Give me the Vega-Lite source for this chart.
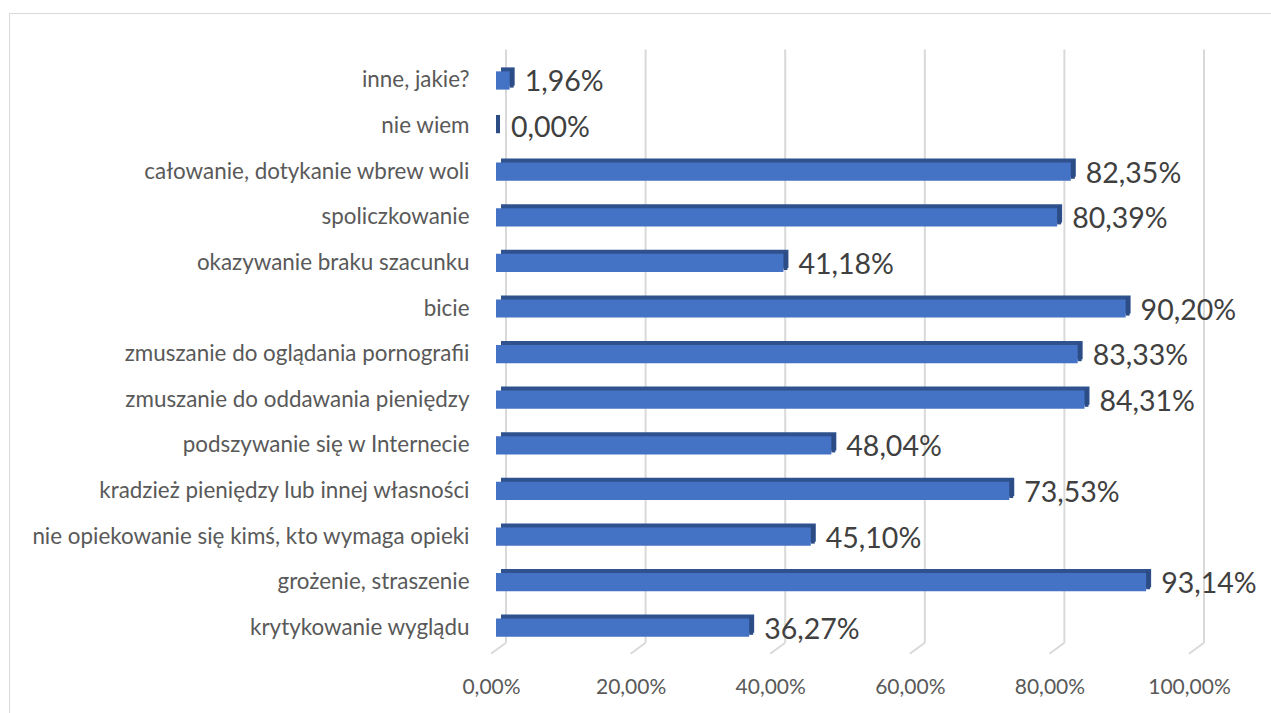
{
  "$schema": "https://vega.github.io/schema/vega-lite/v6.json",
  "width": 1262,
  "height": 700,
  "padding": {"left": 9, "top": 13, "right": 0, "bottom": 0},
  "autosize": {"type": "none"},
  "background": "white",
  "config": {
    "locale": {"number": {"decimal": ",", "thousands": " ", "grouping": [3], "currency": ["", " zł"]}},
    "view": {"stroke": "#d9d9d9", "strokeWidth": 1, "strokeDash": [1262, 1962, 700]},
    "font": "Lato",
    "text": {"font": "Lato"}
  },
  "data": {
    "values": [
      {"cat": "inne, jakie?", "v": 0.0196},
      {"cat": "nie wiem", "v": 0.0},
      {"cat": "całowanie, dotykanie wbrew woli", "v": 0.8235},
      {"cat": "spoliczkowanie", "v": 0.8039},
      {"cat": "okazywanie braku szacunku", "v": 0.4118},
      {"cat": "bicie", "v": 0.902},
      {"cat": "zmuszanie do oglądania pornografii", "v": 0.8333},
      {"cat": "zmuszanie do oddawania pieniędzy", "v": 0.8431},
      {"cat": "podszywanie się w Internecie", "v": 0.4804},
      {"cat": "kradzież pieniędzy lub innej własności", "v": 0.7353},
      {"cat": "nie opiekowanie się kimś, kto wymaga opieki", "v": 0.451},
      {"cat": "grożenie, straszenie", "v": 0.9314},
      {"cat": "krytykowanie wyglądu", "v": 0.3627}
    ]
  },
  "layer": [
    {
      "data": {"values": [{"g": 0}, {"g": 0.2}, {"g": 0.4}, {"g": 0.6}, {"g": 0.8}, {"g": 1}]},
      "mark": {"type": "rule", "color": "#d9d9d9", "strokeWidth": 2, "xOffset": 10, "yOffset": -31, "y2Offset": 15},
      "encoding": {
        "x": {"field": "g", "type": "quantitative"},
        "y": {"datum": "inne, jakie?", "type": "nominal"},
        "y2": {"datum": "krytykowanie wyglądu"}
      }
    },
    {
      "data": {"values": [{"g": 0}, {"g": 0.2}, {"g": 0.4}, {"g": 0.6}, {"g": 0.8}, {"g": 1}]},
      "mark": {"type": "rule", "color": "#d9d9d9", "strokeWidth": 2, "xOffset": 10, "x2Offset": -5, "yOffset": 15, "y2Offset": 26},
      "encoding": {
        "x": {"field": "g", "type": "quantitative"},
        "x2": {"field": "g"},
        "y": {"datum": "krytykowanie wyglądu", "type": "nominal"},
        "y2": {"datum": "krytykowanie wyglądu"}
      }
    },
    {
      "mark": {"type": "bar", "color": "#2f528f", "xOffset": 5, "x2Offset": 5, "yOffset": -4, "y2Offset": -4},
      "encoding": {
        "x": {"field": "v", "type": "quantitative"},
        "x2": {"datum": 0},
        "y": {"field": "cat", "type": "nominal"}
      }
    },
    {
      "mark": {"type": "bar", "color": "#2b4c85", "xOffset": 0, "x2Offset": 4, "yOffset": -2, "y2Offset": -2},
      "encoding": {
        "x": {"field": "v", "type": "quantitative"},
        "x2": {"field": "v"},
        "y": {"field": "cat", "type": "nominal"}
      }
    },
    {
      "mark": {"type": "bar", "color": "#4472c4"},
      "encoding": {
        "x": {
          "field": "v",
          "type": "quantitative",
          "scale": {"domain": [-0.6977, 1.1103], "nice": false, "zero": false},
          "axis": {
            "title": null,
            "values": [0, 0.2, 0.4, 0.6, 0.8, 1],
            "format": ".2%",
            "grid": false,
            "domain": false,
            "ticks": false,
            "tickSize": 0,
            "labelPadding": 0,
            "offset": -37,
            "labelOffset": -5,
            "labelFont": "Lato",
            "labelFontSize": 21,
            "labelColor": "#595959",
            "labelBaseline": "top"
          }
        },
        "x2": {"datum": 0},
        "y": {
          "field": "cat",
          "type": "nominal",
          "scale": {
            "domain": [
              " ",
              "inne, jakie?",
              "nie wiem",
              "całowanie, dotykanie wbrew woli",
              "spoliczkowanie",
              "okazywanie braku szacunku",
              "bicie",
              "zmuszanie do oglądania pornografii",
              "zmuszanie do oddawania pieniędzy",
              "podszywanie się w Internecie",
              "kradzież pieniędzy lub innej własności",
              "nie opiekowanie się kimś, kto wymaga opieki",
              "grożenie, straszenie",
              "krytykowanie wyglądu",
              "  "
            ],
            "paddingInner": 0.6,
            "paddingOuter": 0.475,
            "align": 0.2947
          },
          "axis": {
            "title": null,
            "orient": "left",
            "values": [
              "inne, jakie?",
              "nie wiem",
              "całowanie, dotykanie wbrew woli",
              "spoliczkowanie",
              "okazywanie braku szacunku",
              "bicie",
              "zmuszanie do oglądania pornografii",
              "zmuszanie do oddawania pieniędzy",
              "podszywanie się w Internecie",
              "kradzież pieniędzy lub innej własności",
              "nie opiekowanie się kimś, kto wymaga opieki",
              "grożenie, straszenie",
              "krytykowanie wyglądu"
            ],
            "domain": false,
            "ticks": false,
            "tickSize": 0,
            "labelPadding": 0,
            "offset": -460,
            "labelFont": "Lato",
            "labelFontSize": 22.4,
            "labelColor": "#595959",
            "labelLimit": 600
          }
        }
      }
    },
    {
      "mark": {"type": "text", "align": "left", "baseline": "middle", "dx": 15, "dy": 2, "fontSize": 28.5, "color": "#404040", "font": "Lato"},
      "encoding": {
        "x": {"field": "v", "type": "quantitative"},
        "y": {"field": "cat", "type": "nominal"},
        "text": {"field": "v", "type": "quantitative", "format": ".2%"}
      }
    }
  ]
}
